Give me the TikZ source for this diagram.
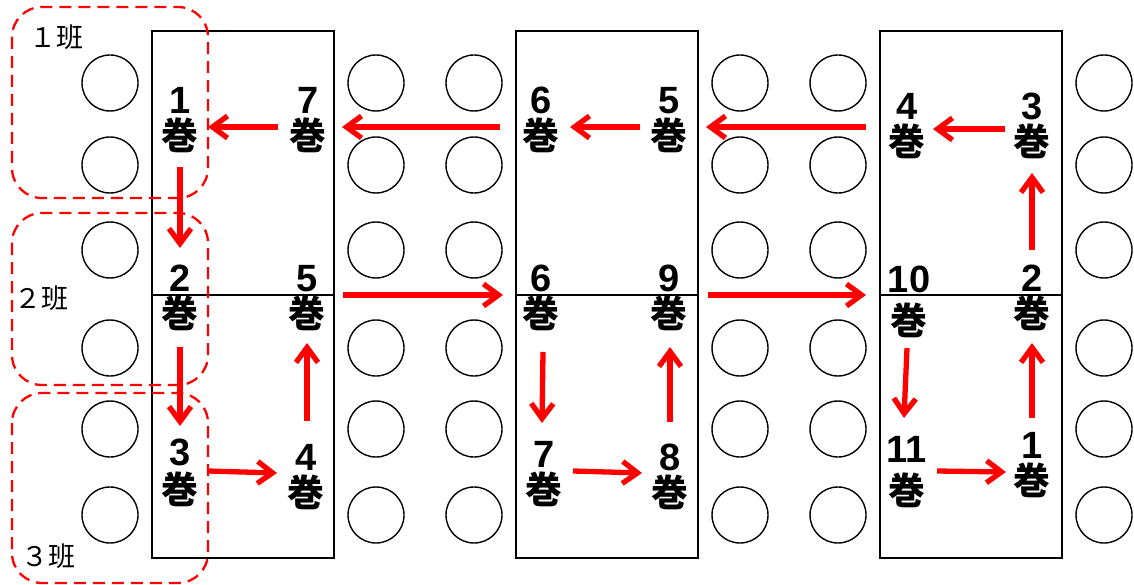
\documentclass[tikz,border=0pt]{standalone}
\usepackage{fontspec}
\setmainfont{Liberation Sans}
\newfontfamily\jp{Noto Sans CJK JP}
\usetikzlibrary{arrows.meta}
\newcommand{\kan}{{\jp\fontsize{37}{36}\selectfont 巻}}
\newcommand{\conn}[4]{\draw[arr] ([shift={(#2)}]#1.center) -- ([shift={(#4)}]#3.center);}
\begin{document}
\begin{tikzpicture}[x=1pt,y=-1pt,
  seat/.style={draw, circle, minimum size=56pt, inner sep=0pt, line width=1.4pt},
  desk/.style={draw, line width=1.6pt},
  grp/.style={draw=red, dash pattern=on 12pt off 7pt, line width=2.3pt, rounded corners=30pt},
  lab/.style={align=center, inner sep=0pt, font=\fontsize{38}{36}\selectfont\bfseries},
  glab/.style={inner sep=0pt, font=\jp\fontsize{27}{27}\selectfont},
  arr/.style={draw=red, line width=5.3pt, -{Straight Barb[length=15pt,width=22pt]}}]
\useasboundingbox (0,0) rectangle (1134,585);
% seats
\foreach \x in {110,376,474,740,838,1104}
  \foreach \y in {83,165,250,348,429,515}
    \node[seat] (s\x-\y) at (\x,\y) {};
% desks
\foreach \x in {152,516,880}{
  \draw[desk] (\x,31) rectangle ++(182,527);
  \draw[desk] (\x,295) -- ++(182,0);
}
% groups
\draw[grp] (12,7) rectangle (208,198);
\draw[grp] (12,213) rectangle (208,385);
\draw[grp] (12,393) rectangle (208,583);
\node[glab] (g1) at (56,37) {１班};
\node[glab] (g2) at (41,298) {２班};
\node[glab] (g3) at (48,556) {３班};
% labels
\node[lab] (L1) at (180,120) {1\\\kan};
\node[lab] (L7) at (308,120) {7\\\kan};
\node[lab] (L2) at (180,298) {2\\\kan};
\node[lab] (L5) at (307,298) {5\\\kan};
\node[lab] (L3) at (180,473) {3\\[2pt]\kan};
\node[lab] (L4) at (306,477) {4\\\kan};
\node[lab] (M6) at (541,120) {6\\\kan};
\node[lab] (M5) at (669,120) {5\\\kan};
\node[lab] (M6b) at (541,298) {6\\\kan};
\node[lab] (M9) at (669,298) {9\\\kan};
\node[lab] (M7) at (544,474) {7\\\kan};
\node[lab] (M8) at (670,477) {8\\\kan};
\node[lab] (R4) at (907,126) {4\\\kan};
\node[lab] (R3) at (1032,126) {3\\\kan};
\node[lab] (R10) at (909,302) {10\\[6pt]\kan};
\node[lab] (R2) at (1032,298) {2\\\kan};
\node[lab] (R11) at (907,472) {11\\[6pt]\kan};
\node[lab] (R1) at (1032,465) {1\\\kan};
% arrows
\conn{L7}{-30,7}{L1}{28,7}
\conn{M6}{-41,7}{L7}{34,7}
\conn{M5}{-29,7}{M6}{29,7}
\conn{R4}{-41,1}{M5}{37,7}
\conn{R3}{-27,3}{R4}{26,3}
\conn{R2}{0,-48}{R3}{0,47}
\conn{R1}{0,-47}{R2}{0,45}
\conn{R11}{30,-1}{R1}{-26,7}
\conn{R10}{-2,46}{R11}{-3,-54}
\conn{M9}{39,-3}{R10}{-43,-7}
\conn{M8}{0,-55}{M9}{1,49}
\conn{M7}{29,-3}{M8}{-28,-4}
\conn{M6b}{2,54}{M7}{-2,-51}
\conn{L5}{36,-3}{M6b}{-38,-3}
\conn{L4}{1,-56}{L5}{0,45}
\conn{L3}{28,-2}{L4}{-29,-4}
\conn{L2}{0,49}{L3}{0,-47}
\conn{L1}{0,47}{L2}{0,-50}
\end{tikzpicture}
\end{document}
